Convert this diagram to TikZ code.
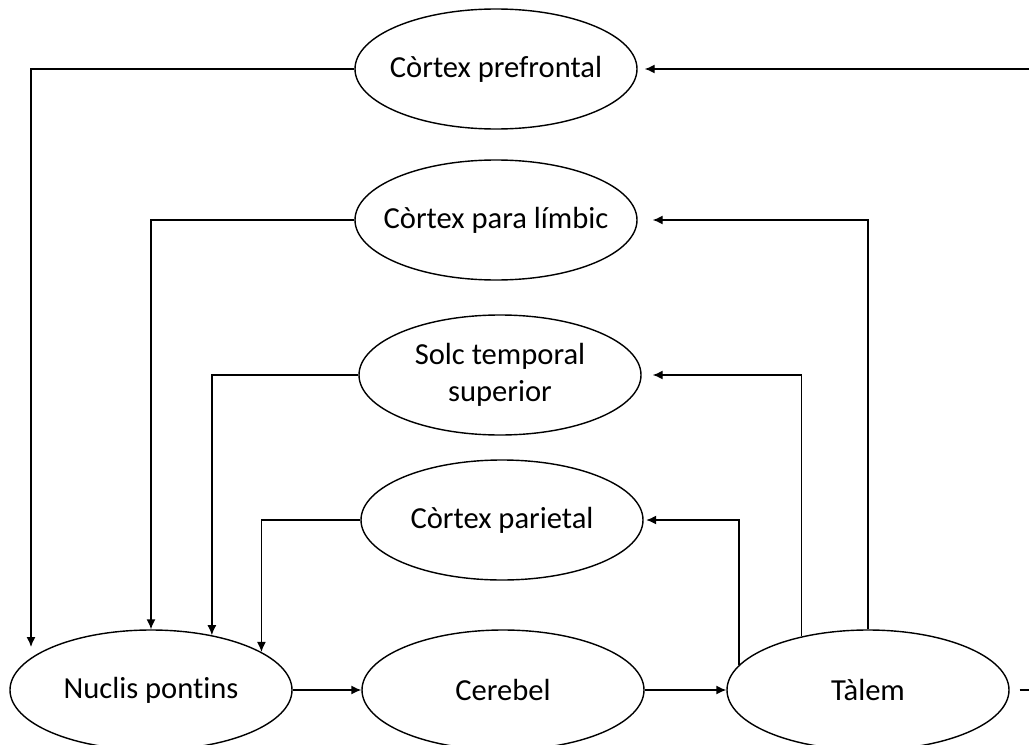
\documentclass[tikz,border=0pt]{standalone}
\usepackage{fontspec}
\setmainfont{Carlito}[Ligatures=NoCommon]
\usetikzlibrary{shapes.geometric,arrows.meta}

\begin{document}
\begin{tikzpicture}[>={Latex[length=2mm,width=1.8mm]}, line width=.8pt,
  area/.style={ellipse,draw,minimum width=5.64cm,minimum height=2.4cm,inner sep=0pt},
  every label/.style={font=\fontsize{17.4}{21.2}\selectfont,align=center,inner sep=0pt}]
  \useasboundingbox (0,0) rectangle (20.58,14.88);
  \clip (0,0) rectangle (20.58,14.88);

  \node[area,label=center:Còrtex prefrontal] (pfc) at (9.92,13.50) {};
  \node[area,label=center:Còrtex para límbic] (plc) at (9.92,10.48) {};
  \node[area,label={center:Solc temporal\\superior}] (stc) at (10.00,7.38) {};
  \node[area,label=center:Còrtex parietal] (par) at (10.04,4.48) {};
  \node[area,label=center:Nuclis pontins] (np) at (3.02,1.08) {};
  \node[area,label=center:Cerebel] (cer) at (10.06,1.08) {};
  \node[area,label=center:Tàlem] (tal) at (17.36,1.08) {};
  \coordinate (pfcend) at (0.62,1.94);
  \coordinate (off) at (21.2,1.08);

  % cortex -> nuclis pontins
  \draw[->] (pfc.west) -| (pfcend);
  \draw[->] (plc.west) -| (np.north);
  \draw[->] (stc.west) -| (np.42);
  \draw[->] (par.west) -| (np.19);

  \draw[->] (np) -- (cer);
  \draw[->] (cer) -- (tal);

  % talem -> cortex
  \draw[->,shorten >=.05cm] (tal.169) |- (par.east);
  \draw[->,shorten >=.22cm] (tal.141) |- (stc.east);
  \draw[->,shorten >=.3cm] (tal.north) |- (plc.east);
  \draw[->,shorten <=.2cm,shorten >=.14cm] (tal.east) -- (off) |- (pfc.east);
\end{tikzpicture}
\end{document}
